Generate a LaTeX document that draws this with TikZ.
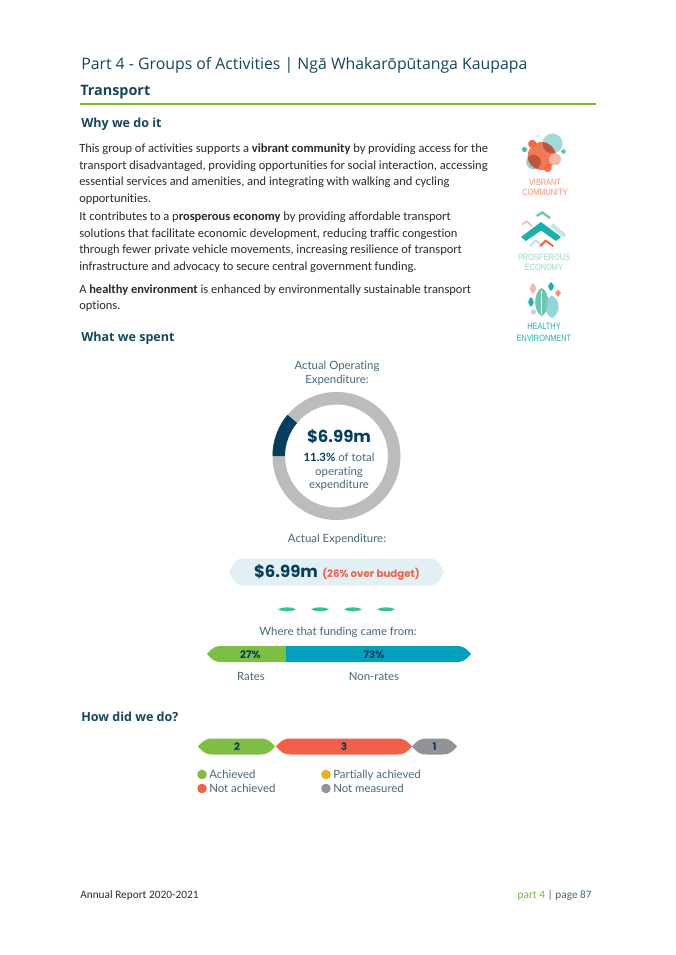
\documentclass[tikz,border=0pt]{standalone}
\usepackage{fontspec}
\setmainfont{Carlito}[Ligatures=CommonOff]
\newfontfamily\headf{Open Sans}
\newfontfamily\infof{Lato}[Ligatures=CommonOff]
\newfontfamily\numf{Poppins}
\newfontfamily\iconf{Liberation Sans}[FakeStretch=0.8]
\definecolor{ink}{HTML}{2B2B2B}
\definecolor{head}{HTML}{17465C}
\definecolor{navy}{HTML}{053F5E}
\definecolor{slate}{HTML}{47687A}
\definecolor{rule}{HTML}{72BB3A}
\definecolor{ringg}{HTML}{BABCBE}
\definecolor{band}{HTML}{E2EFF3}
\definecolor{barg}{HTML}{7DBE43}
\definecolor{bart}{HTML}{03A0BC}
\definecolor{barr}{HTML}{F2604A}
\definecolor{barx}{HTML}{929297}
\definecolor{bary}{HTML}{EAB11E}
\definecolor{mint}{HTML}{3DBE95}
\definecolor{ico}{HTML}{F26A45}
\definecolor{ict}{HTML}{1CB0AD}
\definecolor{icm}{HTML}{6CC5B0}
\definecolor{icp}{HTML}{F5B8A4}
\definecolor{icb}{HTML}{7FD0D0}
\tikzset{
  body/.style={anchor=base west,inner sep=0pt,text=ink,font=\fontsize{9.35pt}{11pt}\selectfont},
  subhead/.style={anchor=base west,inner sep=0pt,text=head,font=\headf\fontsize{9.4pt}{12pt}\selectfont\bfseries},
  info/.style={anchor=base,inner sep=0pt,text=slate,font=\infof\fontsize{8.55pt}{10pt}\selectfont},
  barnum/.style={anchor=base,inner sep=0pt,text=navy,font=\numf\fontsize{7.8pt}{10pt}\selectfont\bfseries},
  icolab/.style={anchor=base,inner sep=0pt,font=\iconf\fontsize{6.9pt}{7pt}\selectfont},
  foot/.style={anchor=base west,inner sep=0pt,font=\fontsize{8.5pt}{10pt}\selectfont},
  dot/.style={circle,inner sep=0pt,minimum size=7.2pt}
}
\newcommand{\pointL}[4]{(#1,#3) .. controls (#1+6,#3-#4+1) and (#1+9,#3-#4) .. (#1+15,#3-#4) -- (#2,#3-#4) -- (#2,#3+#4) -- (#1+15,#3+#4) .. controls (#1+9,#3+#4) and (#1+6,#3+#4-1) .. (#1,#3) -- cycle}
\newcommand{\pointR}[4]{(#1,#3-#4) -- (#2-15,#3-#4) .. controls (#2-9,#3-#4) and (#2-6,#3-#4+1) .. (#2,#3) .. controls (#2-6,#3+#4-1) and (#2-9,#3+#4) .. (#2-15,#3+#4) -- (#1,#3+#4) -- cycle}
\newcommand{\pointB}[4]{(#1,#3) .. controls (#1+6,#3-#4+1) and (#1+9,#3-#4) .. (#1+15,#3-#4) -- (#2-15,#3-#4) .. controls (#2-9,#3-#4) and (#2-6,#3-#4+1) .. (#2,#3) .. controls (#2-6,#3+#4-1) and (#2-9,#3+#4) .. (#2-15,#3+#4) -- (#1+15,#3+#4) .. controls (#1+9,#3+#4) and (#1+6,#3+#4-1) .. (#1,#3) -- cycle}
\newcommand{\leaf}[4]{(#1,#2) .. controls (#1+#4,#2+4) and (#1+#4,#3-4) .. (#1,#3) .. controls (#1-#4,#3-4) and (#1-#4,#2+4) .. (#1,#2) -- cycle}
\begin{document}
\begin{tikzpicture}[x=0.75pt,y=-0.75pt]
\useasboundingbox[fill=white] (0,0) rectangle (675,955);
% headings
\node[anchor=base west,inner sep=0pt,text=head,font=\headf\fontsize{11.87pt}{15pt}\selectfont] (title) at (81,70) {Part 4 - Groups of Activities | Ngā Whakarōpūtanga Kaupapa};
\node[anchor=base west,inner sep=0pt,text=head,font=\headf\fontsize{10.8pt}{15pt}\selectfont\bfseries] (transport) at (80,96) {Transport};
\fill[rule] (80,103.2) rectangle (596,105);
\node[subhead] (why) at (81,127.5) {Why we do it};
% body
\node[body] (l1) at (79,153) {This group of activities supports a \textbf{vibrant community} by providing access for the};
\node[body] (l2) at (79,170) {transport disadvantaged, providing opportunities for social interaction, accessing};
\node[body] (l3) at (79,186) {essential services and amenities, and integrating with walking and cycling};
\node[body] (l4) at (79,203) {opportunities.};
\node[body] (l5) at (79,221) {It contributes to a p\textbf{rosperous economy} by providing affordable transport};
\node[body] (l6) at (79,238) {solutions that facilitate economic development, reducing traffic congestion};
\node[body] (l7) at (79,254) {through fewer private vehicle movements, increasing resilience of transport};
\node[body] (l8) at (79,271) {infrastructure and advocacy to secure central government funding.};
\node[body] (l9) at (79,293) {A \textbf{healthy environment} is enhanced by environmentally sustainable transport};
\node[body] (l10) at (79,310) {options.};
\node[subhead] (spent) at (81,341.5) {What we spent};
% vibrant icon
\fill[icb,opacity=.75] (552.5,143.5) circle (10);
\fill[icm,opacity=.75] (533.5,162) circle (7.3);
\fill[ico,opacity=.9] (541.7,156) circle (14);
\fill[ico] (532.3,144) circle (4.2);
\fill[ict,opacity=.85] (524.5,149.5) circle (2.6);
\fill[icm] (563.5,151.5) circle (2.4);
\fill[icp] (555,159.3) circle (6);
\fill[ico,opacity=.9] (547.7,168) circle (4.2);
\fill[icp,opacity=.6] (538,136) circle (1.5);
\begin{scope}
\clip (541.7,156) circle (14);
\fill[black!35!ico,opacity=.6] (552.5,143.5) circle (10);
\fill[black!35!ico,opacity=.6] (533.5,162) circle (7.3);
\end{scope}
\node[icolab,text=ico!75] (v1) at (545,186) {VIBRANT};
\node[icolab,text=ico!75] (v2) at (545,195.5) {COMMUNITY};
% prosperous icon
\draw[icp,line width=1.1pt] (521.7,224.7) -- (526.7,221.3) -- (532.3,226.3);
\draw[icm,line width=1.7pt] (536.7,216) -- (542.3,212.5) -- (550,218);
\draw[icm!40,line width=3pt] (551.7,224.7) -- (565,236);
\fill[ict] (521,237) -- (541,222) -- (561,237) -- (556,241) -- (541,230.5) -- (526,241) -- cycle;
\draw[icb!60,line width=1.4pt] (530,246) -- (535.7,240.5) -- (543.3,246);
\draw[ico,line width=1.5pt] (540,246.3) -- (545.7,240.7) -- (553.3,246.3);
\node[icolab,text=icm!70] (p1) at (544,261) {PROSPEROUS};
\node[icolab,text=icm!70] (p2) at (544,270.5) {ECONOMY};
% healthy icon
\fill[icp] \leaf{533}{283}{294}{4};
\fill[ict] \leaf{551}{282}{291}{3.8};
\fill[ict] \leaf{531}{297}{307}{3.6};
\fill[icp!50!ico] (558,289.5) -- (561,293) -- (558,297) -- (555,293) -- cycle;
\fill[icp!50!icm!60] (533.5,312) circle (2.8);
\fill[icm] \leaf{541.7}{288}{316}{8.7};
\fill[icb,opacity=.85] \leaf{552}{295.5}{318}{8.7};
\draw[white,line width=.5pt] (541.7,291) -- (541.7,314);
\node[icolab,text=ict] (h1) at (544,329) {HEALTHY};
\node[icolab,text=ict] (h2) at (544,341.5) {ENVIRONMENT};
% donut
\node[info] (aoe1) at (337,369) {Actual Operating};
\node[info] (aoe2) at (337,383) {Expenditure:};
\fill[ringg,even odd rule] (336.5,456) circle (64) (336.5,456) circle (51.5);
\fill[navy] (272.5,456) arc[start angle=180,end angle=220,radius=64] -- (297,423) arc[start angle=220,end angle=180,radius=51.5] -- cycle;
\node[anchor=base,inner sep=0pt,text=navy,font=\numf\fontsize{12.4pt}{15pt}\selectfont\bfseries] (dv) at (339,442) {\$6.99m};
\node[info] (d1) at (339,461) {\textbf{\textcolor{navy}{11.3\%}} of total};
\node[info] (d2) at (339,475) {operating};
\node[info] (d3) at (339,488) {expenditure};
\node[info] (ae) at (337,542) {Actual Expenditure:};
\fill[band] \pointB{229}{444}{572}{13.5};
\node[anchor=base,inner sep=0pt,text=navy,font=\numf\fontsize{12.4pt}{15pt}\selectfont\bfseries] (ev) at (286,577) {\$6.99m};
\node[anchor=base,inner sep=0pt,text=barr,font=\numf\fontsize{7.7pt}{10pt}\selectfont\bfseries] (eo) at (371,577) {(26\% over budget)};
% dashes
\foreach \xa in {278,311,344,377}{
  \fill[mint] (\xa,609.3) .. controls (\xa+4,606.6) and (\xa+14,606.6) .. (\xa+18,609.3) .. controls (\xa+14,612) and (\xa+4,612) .. (\xa,609.3) -- cycle;
}
\node[info] (wf) at (338,635) {Where that funding came from:};
% funding bar
\fill[barg] \pointL{207}{286}{654}{8};
\fill[bart] \pointR{286}{471}{654}{8};
\node[barnum] (b27) at (250.5,658) {27\%};
\node[barnum] (b73) at (374,658) {73\%};
\node[info] (rates) at (251,680) {Rates};
\node[info] (nonr) at (374,680) {Non-rates};
\node[subhead] (how) at (81,721) {How did we do?};
% results bar
\fill[barg] \pointB{198}{275}{746.5}{8};
\fill[barr] \pointB{276}{412}{746.5}{8};
\fill[barx] \pointB{412}{457}{746.5}{8};
\node[barnum] (r2) at (237,750.5) {2};
\node[barnum] (r3) at (344,750.5) {3};
\node[barnum] (r1) at (434.5,750.5) {1};
% legend
\node[dot,fill=barg] (c1) at (202,774.5) {};
\node[dot,fill=barr] (c2) at (202,788.5) {};
\node[dot,fill=bary] (c3) at (326,774.5) {};
\node[dot,fill=barx] (c4) at (326,788.5) {};
\node[info,anchor=base west] (t1) at (209,778) {Achieved};
\node[info,anchor=base west] (t2) at (209,792) {Not achieved};
\node[info,anchor=base west] (t3) at (333,778) {Partially achieved};
\node[info,anchor=base west] (t4) at (333,792) {Not measured};
% footer
\node[foot,text=ink] (fl) at (80,898) {Annual Report 2020-2021};
\node[foot,text=rule,anchor=base east] (fr) at (592,898) {part 4 \textcolor{slate}{| page 87}};
\end{tikzpicture}
\end{document}
